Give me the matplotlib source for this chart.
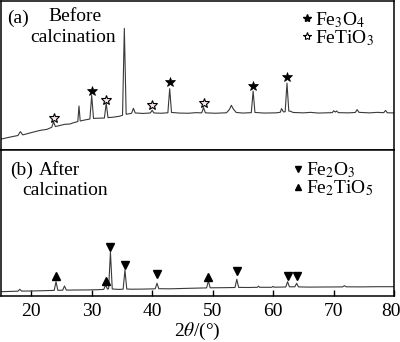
import numpy as np
import matplotlib
matplotlib.use('Agg')
import matplotlib.pyplot as plt
from matplotlib.lines import Line2D
from matplotlib.transforms import ScaledTranslation

plt.rcParams['font.family'] = ['Liberation Serif', 'DejaVu Serif']
plt.rcParams['mathtext.fontset'] = 'stix'

# (a) before calcination (arb. units)
tth_a = [15.0, 16.5, 17.8, 18.2, 18.6, 20.0, 21.5, 22.6, 23.4, 23.7, 24.0, 25.5, 26.4,
         27.0, 27.7, 27.9, 28.1, 29.0, 29.7, 30.0, 30.3, 31.0, 32.1, 32.4, 32.7,
         33.5, 34.6, 35.1, 35.4, 35.7, 36.2, 36.6, 36.9, 37.2, 38.5, 39.7, 40.0,
         40.3, 41.5, 42.6, 42.9, 43.2, 44.5, 46.0, 47.2, 48.2, 48.5, 48.8, 50.5,
         52.3, 52.8, 53.1, 53.4, 53.9, 55.0, 56.4, 56.7, 57.0, 58.5, 60.5, 61.2,
         61.4, 61.7, 62.0, 62.3, 62.6, 62.9, 63.3, 65.0, 66.2, 67.5, 69.8, 70.0,
         70.3, 70.5, 70.8, 72.5, 73.6, 73.9, 74.2, 76.0, 77.2, 78.3, 78.6, 78.9, 80.0]
int_a = [11.0, 13.0, 14.6, 18.5, 15.2, 17.5, 19.8, 20.8, 22.9, 28.3, 23.6, 25.8, 26.2,
         27.5, 28.6, 44.3, 29.2, 30.4, 31.2, 55.0, 31.8, 32.0, 32.2, 47.0, 32.6,
         33.0, 34.0, 35.0, 122.5, 36.0, 36.5, 37.0, 42.0, 37.3, 36.8, 37.3, 40.0,
         37.3, 37.0, 37.5, 61.7, 37.8, 37.2, 37.0, 37.6, 37.4, 42.7, 37.4, 37.0,
         37.5, 41.0, 45.0, 41.5, 37.8, 37.2, 37.6, 59.3, 37.8, 37.2, 37.4, 38.0,
         41.7, 38.4, 38.5, 67.3, 39.2, 39.0, 37.8, 37.4, 37.9, 37.2, 37.6, 39.5,
         38.2, 39.3, 37.6, 37.4, 37.8, 40.7, 37.9, 37.4, 37.9, 37.6, 39.8, 37.5, 37.3]

fe3o4_tth = [30.0, 42.9, 56.7, 62.3]
fe3o4_y = [59.0, 68.0, 64.5, 73.0]
fetio3_tth = [23.7, 32.4, 40.0, 48.5]
fetio3_y = [32.5, 50.5, 45.0, 47.5]

# (b) after calcination
tth_b = [15.0, 16.5, 17.8, 18.1, 18.4, 20.0, 22.0, 23.8, 24.1, 24.4, 25.2, 25.5, 25.8,
         27.5, 29.5, 31.0, 32.0, 32.3, 32.6, 32.8, 33.1, 33.4, 34.5, 35.2, 35.5,
         35.8, 36.5, 38.5, 40.5, 40.8, 41.1, 43.0, 45.5, 47.5, 49.0, 49.3, 49.6,
         51.5, 53.7, 54.0, 54.3, 56.0, 57.4, 57.6, 57.8, 59.8, 60.0, 60.2, 62.1,
         62.4, 62.7, 63.6, 63.9, 64.2, 66.0, 68.5, 71.5, 71.8, 72.1, 74.5, 77.0, 80.0]
int_b = [4.3, 4.6, 4.8, 6.7, 4.9, 5.0, 5.3, 5.6, 14.3, 5.7, 5.8, 10.0, 5.9,
         6.0, 6.1, 6.3, 6.6, 11.0, 7.0, 7.2, 44.0, 7.0, 6.6, 6.8, 26.0,
         7.0, 6.8, 6.9, 7.2, 12.7, 7.3, 7.2, 7.6, 7.9, 8.1, 15.0, 8.2,
         8.3, 8.5, 16.7, 8.6, 8.5, 8.7, 9.8, 8.7, 8.7, 9.6, 8.8, 9.0,
         14.3, 9.2, 9.2, 12.7, 9.1, 8.9, 9.0, 9.1, 10.3, 9.2, 9.1, 9.3, 9.3]

fe2o3_tth = [33.1, 35.5, 40.8, 54.0, 62.4, 63.9]
fe2o3_y = [49.0, 31.0, 21.7, 25.0, 20.0, 20.0]
fe2tio5_tth = [24.1, 32.3, 49.3]
fe2tio5_y = [20.0, 15.3, 19.3]

xt = [20, 30, 40, 50, 60, 70, 80]

fig = plt.figure(figsize=(4, 3.42), dpi=100)
ax1 = fig.add_axes([0.0025, 0.5614, 0.9825, 0.4356])
ax2 = fig.add_axes([0.0025, 0.1345, 0.9825, 0.4269], sharex=ax1)

lc = '#3a3a3a'
ax1.plot(tth_a, int_a, color=lc, lw=0.8)
ax1.plot(fe3o4_tth, fe3o4_y, ls='none', marker='*', ms=7, mfc='k', mec='k', mew=0.5)
ax1.plot(fetio3_tth, fetio3_y, ls='none', marker='*', ms=7, mfc='#f3e4ea', mec='k', mew=0.8)
ax2.plot(tth_b, int_b, color=lc, lw=0.8)
ax2.plot(fe2o3_tth, fe2o3_y, ls='none', marker='v', ms=5.5, color='k')
ax2.plot(fe2tio5_tth, fe2tio5_y, ls='none', marker='^', ms=5.5, color='k')

ax1.set_xlim(15, 80)
ax1.set_ylim(0, 150)
ax2.set_ylim(0, 146)

for ax in (ax1, ax2):
    ax.set_yticks([])
    for s in ax.spines.values():
        s.set_linewidth(1.1)
ax1.tick_params(axis='x', bottom=False, labelbottom=False)
ax2.set_xticks(xt)
ax2.tick_params(axis='x', direction='in', length=4, width=1, labelsize=14, pad=5)
ax2.set_xlabel(r'2$\theta$/(°)', fontsize=14, labelpad=1)
# last label sits against the right edge, nudge it in
last = ax2.get_xticklabels()[-1]
last.set_transform(last.get_transform() + ScaledTranslation(-0.03, 0, fig.dpi_scale_trans))

fs = 14
ax1.text(0.015, 0.885, '(a)', transform=ax1.transAxes, fontsize=fs, va='center')
ax1.text(0.12, 0.895, 'Before', transform=ax1.transAxes, fontsize=fs, va='center')
ax1.text(0.074, 0.755, 'calcination', transform=ax1.transAxes, fontsize=fs, va='center')
ax2.text(0.022, 0.86, '(b)', transform=ax2.transAxes, fontsize=fs, va='center')
ax2.text(0.095, 0.86, 'After', transform=ax2.transAxes, fontsize=fs, va='center')
ax2.text(0.053, 0.72, 'calcination', transform=ax2.transAxes, fontsize=fs, va='center')

h1 = [Line2D([], [], ls='none', marker='*', ms=6, mfc='k', mec='k'),
      Line2D([], [], ls='none', marker='*', ms=6, mfc='white', mec='k', mew=0.8)]
ax1.legend(h1, ['Fe$_3$O$_4$', 'FeTiO$_3$'], loc='upper left', bbox_to_anchor=(0.73, 1.03),
           frameon=False, fontsize=fs, handlelength=0.6, handletextpad=0.1,
           labelspacing=-0.1, borderpad=0.2)
h2 = [Line2D([], [], ls='none', marker='v', ms=4.5, color='k'),
      Line2D([], [], ls='none', marker='^', ms=4.5, color='k')]
ax2.legend(h2, ['Fe$_2$O$_3$', 'Fe$_2$TiO$_5$'], loc='upper left', bbox_to_anchor=(0.707, 1.02),
           frameon=False, fontsize=fs, handlelength=0.6, handletextpad=0.1,
           labelspacing=-0.1, borderpad=0.2)

plt.savefig('out.png', dpi=100)
